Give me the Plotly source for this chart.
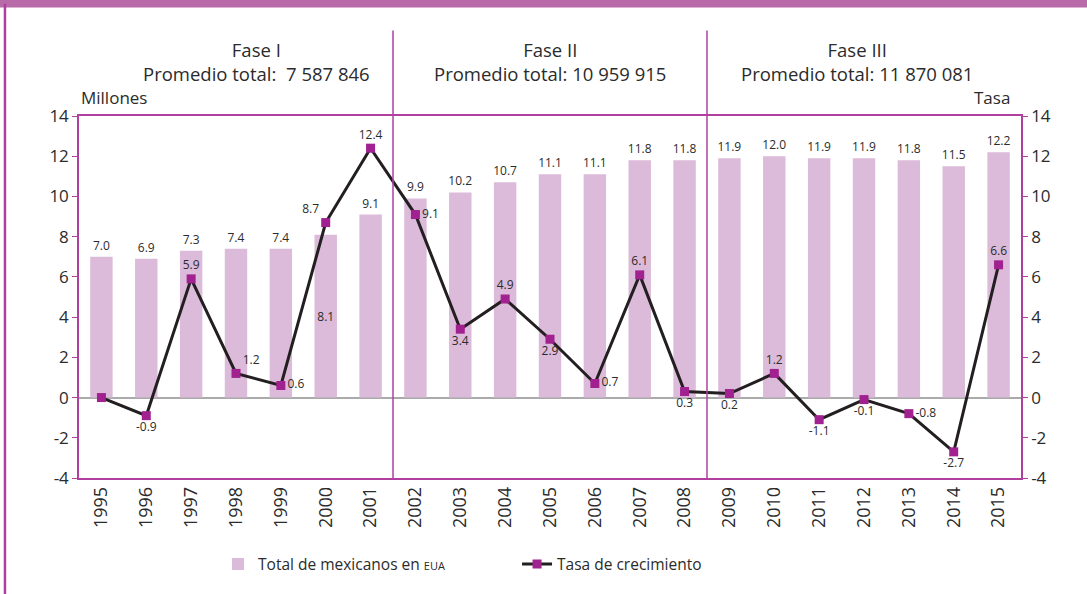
import plotly.graph_objects as go

years = [str(y) for y in range(1995, 2016)]
total_mexicanos = [7.0, 6.9, 7.3, 7.4, 7.4, 8.1, 9.1, 9.9, 10.2, 10.7, 11.1, 11.1,
                   11.8, 11.8, 11.9, 12.0, 11.9, 11.9, 11.8, 11.5, 12.2]
tasa = [0.0, -0.9, 5.9, 1.2, 0.6, 8.7, 12.4, 9.1, 3.4, 4.9, 2.9, 0.7,
        6.1, 0.3, 0.2, 1.2, -1.1, -0.1, -0.8, -2.7, 6.6]
tasa_labels = ["", "-0.9", "5.9", "1.2", "0.6", "8.7", "12.4", "9.1", "3.4", "4.9", "2.9", "0.7",
               "6.1", "0.3", "0.2", "1.2", "-1.1", "-0.1", "-0.8", "-2.7", "6.6"]
tasa_label_pos = ["bottom center", "bottom center", "top center", "top right", "middle right",
                  "top left", "top center", "middle right", "bottom center", "top center",
                  "bottom center", "middle right", "top center", "bottom center", "bottom center",
                  "top center", "bottom center", "bottom center", "middle right", "bottom center",
                  "top center"]
bar_label_pos = ["outside"] * 5 + ["inside"] + ["outside"] * 15

fases = ["Fase I", "Fase II", "Fase III"]
promedios = ["Promedio total:&nbsp; 7 587 846", "Promedio total: 10 959 915", "Promedio total: 11 870 081"]
fase_limites = [(0, 6), (7, 13), (14, 20)]

tick_vals = [-4, -2, 0, 2, 4, 6, 8, 10, 12, 14]
tick_text = ["-4", "-2", "0", "2", "4", "6", "8", "10", "12", "14"]

FONT = "Open Sans"
TXT = "#2b2b2b"
PURPLE = "#b0409f"
BAR = "#dcbad9"
MARK = "#a0218f"

fig = go.Figure()
fig.add_trace(go.Bar(
    x=years, y=total_mexicanos, name="Total de mexicanos en <span style='font-size:11px'>EUA</span>",
    marker=dict(color=BAR, line=dict(width=0)), width=0.5,
    text=[f"{v:.1f}" for v in total_mexicanos], textposition=bar_label_pos,
    insidetextanchor="middle", constraintext="none",
    textfont=dict(size=12, color=TXT, family=FONT),
    cliponaxis=False, yaxis="y",
))
fig.add_trace(go.Scatter(
    x=years, y=tasa, name="Tasa de crecimiento", mode="lines+markers+text",
    line=dict(color="#231f20", width=3),
    marker=dict(symbol="square", size=9, color=MARK),
    text=tasa_labels, textposition=tasa_label_pos,
    textfont=dict(size=12, color=TXT, family=FONT),
    cliponaxis=False, yaxis="y2",
))

n = len(years)
shapes = []
for i, (a, b) in enumerate(fase_limites):
    if i > 0:
        shapes.append(dict(type="line", xref="x", yref="paper", x0=a - 0.5, x1=a - 0.5,
                           y0=0, y1=1.236, line=dict(color=PURPLE, width=1.5)))
shapes.append(dict(type="rect", xref="paper", yref="paper", x0=-0.1, x1=1.1,
                   y0=1.2995, y1=1.33, fillcolor="#b86aa9", line=dict(width=0), layer="above"))
shapes.append(dict(type="line", xref="paper", yref="paper", x0=-0.0786, x1=-0.0786,
                   y0=-0.4, y1=1.31, line=dict(color="#b0409f", width=2.5)))

annotations = []
centers = [3.45, 10.0, 16.85]
for f, p, c in zip(fases, promedios, centers):
    annotations.append(dict(x=c, y=1.1511, xref="x", yref="paper", text=f + "<br>" + p,
                            showarrow=False, xanchor="center", yanchor="middle", align="center",
                            font=dict(size=18.5, color=TXT, family=FONT)))
annotations.append(dict(x=0, y=1.052, xref="paper", yref="paper", text="Millones", showarrow=False,
                        xanchor="left", yanchor="middle", font=dict(size=17, color=TXT, family=FONT)))
annotations.append(dict(x=0.99, y=1.052, xref="paper", yref="paper", text="Tasa", showarrow=False,
                        xanchor="right", yanchor="middle", font=dict(size=17, color=TXT, family=FONT)))

axis_common = dict(range=[-4, 14], tickvals=tick_vals, ticktext=tick_text, showgrid=False,
                   showline=True, linecolor=PURPLE, linewidth=1.5, ticks="outside",
                   ticklen=5, tickcolor=PURPLE, tickfont=dict(size=17, color=TXT, family=FONT))

fig.update_layout(
    width=1087, height=594,
    margin=dict(l=79, r=66, t=116, b=114),
    paper_bgcolor="white", plot_bgcolor="white",
    font=dict(family=FONT, color=TXT),
    bargap=0.5,
    showlegend=True,
    legend=dict(orientation="h", x=0.1476, xanchor="left", y=-0.239, yanchor="middle",
                entrywidth=254, font=dict(size=15.5, color=TXT, family=FONT), traceorder="normal"),
    xaxis=dict(type="category", range=[-0.5, n - 0.5], showgrid=False, showline=True,
               linecolor=PURPLE, linewidth=1.5, mirror=True, ticks="", tickangle=-90,
               tickfont=dict(size=18, color=TXT, family=FONT)),
    yaxis=dict(**axis_common, zeroline=True, zerolinecolor="#aaaaaa", zerolinewidth=1.5),
    yaxis2=dict(**axis_common, overlaying="y", side="right", zeroline=False),
    shapes=shapes,
    annotations=annotations,
)

fig.write_html("out.html")
